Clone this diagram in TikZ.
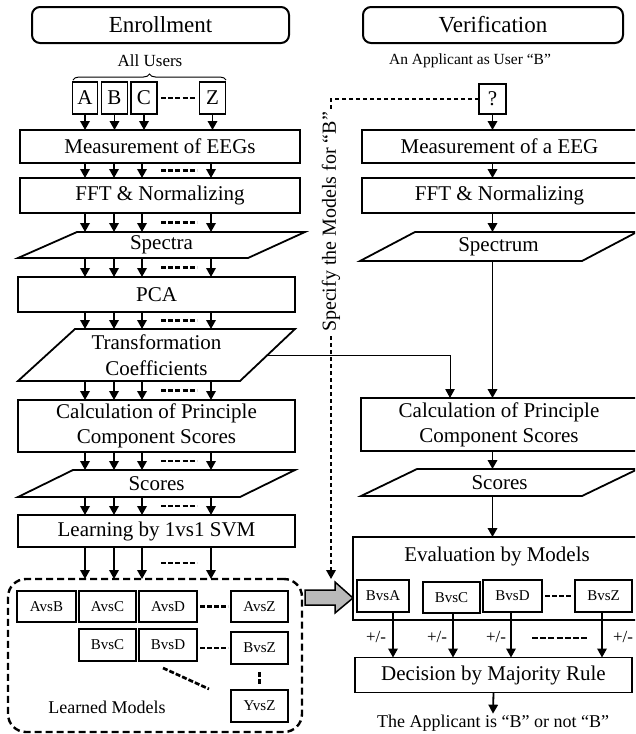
\documentclass[tikz,border=0pt]{standalone}
\usepackage{fontspec}
\setmainfont{Liberation Serif}
\usetikzlibrary{arrows.meta,decorations.pathreplacing,calc}
\newcommand\flowarrows[2]{%
  \foreach \cc in {xa,xb,xc,xz}{\draw[arr] (\cc |- #1.south) -- (\cc |- #2.north);}
  \path (#1.south) -- (#2.north) coordinate[pos=.5] (gm);
  \draw[gapdash] (d1 |- gm) -- (d2 |- gm);
}
\begin{document}
\begin{tikzpicture}[x=1pt,y=-1pt,
  box/.style={draw,line width=1.8pt,inner sep=0pt,outer sep=0pt,align=center,font=\fontsize{21}{25}\selectfont},
  pbox/.style={inner sep=0pt,outer sep=0pt,align=center,font=\fontsize{21}{26}\selectfont},
  para/.style={line width=1.8pt,line join=miter},
  titlebox/.style={draw,line width=2pt,rounded corners=8pt,inner sep=0pt,outer sep=0pt,font=\fontsize{23}{26}\selectfont},
  mbox/.style={draw,line width=1.7pt,inner sep=0pt,outer sep=0pt,font=\fontsize{15}{18}\selectfont,minimum height=31pt},
  arr/.style={line width=1.8pt,-{Triangle[length=9pt,width=9.5pt]}},
  thinarr/.style={line width=1pt,-{Triangle[length=9pt,width=9.5pt]}},
  gapdash/.style={line width=2.8pt,dash pattern=on 5pt off 2.2pt},
  mdash/.style={line width=2.7pt,dash pattern=on 5pt off 2pt},
  lbl/.style={inner sep=1pt,font=\fontsize{17}{20}\selectfont},
  pm/.style={inner sep=1pt,font=\fontsize{17}{20}\selectfont},
]
\useasboundingbox (0,0) rectangle (635,734);
\clip (0,0) rectangle (635,734);

% column coordinates
\coordinate (xa) at (85,0);
\coordinate (xb) at (114,0);
\coordinate (xc) at (142,0);
\coordinate (xz) at (211,0);
\coordinate (d1) at (161,0);
\coordinate (d2) at (197,0);
\coordinate (xr) at (492.5,0);
\coordinate (xt) at (450,0);
\coordinate (xs) at (331,0);

% ===== Enrollment =====
\node[titlebox,minimum width=257pt,minimum height=36pt] (enroll) at (160.5,25) {Enrollment};
\node[lbl] (allusers) at (150,61) {All Users};
\draw[line width=1pt,decorate,decoration={brace,amplitude=6pt}] (73,80) -- (226,80);

\node[box,minimum width=25pt,minimum height=32pt] (la) at (85,98) {A};
\node[box,minimum width=26pt,minimum height=32pt] (lb) at (114.5,98) {B};
\node[box,minimum width=26pt,minimum height=32pt] (lc) at (144,98) {C};
\node[box,minimum width=26pt,minimum height=32pt] (lz) at (212.5,98) {Z};
\draw[gapdash] ($(lc.east)+(4,0)$) -- ($(lz.west)+(-4,0)$);

\node[box,minimum width=280pt,minimum height=33pt] (meas) at (160,146.5) {Measurement of EEGs};
\foreach \n in {la,lb,lc,lz}{\draw[arr] (\n.south) -- (\n.south |- meas.north);}

\node[box,minimum width=280pt,minimum height=35pt] (fft) at (160,195.5) {FFT \& Normalizing};
\flowarrows{meas}{fft}

\node[pbox,minimum width=287pt,minimum height=26pt] (spectra) at (161.5,245) {Spectra};
\draw[para] (spectra.south west) -- ++(230,0) -- (spectra.north east) -- ++(-228,0) -- cycle;
\flowarrows{fft}{spectra}

\node[box,minimum width=277pt,minimum height=35pt] (pca) at (156.5,294.5) {PCA};
\flowarrows{spectra}{pca}

\node[pbox,minimum width=277pt,minimum height=52pt] (trans) at (156.5,355) {Transformation\\Coefficients};
\draw[para] (trans.south west) -- ++(222,0) coordinate (transBR) -- (trans.north east) -- ++(-220,0) -- cycle;
\coordinate (transR) at ($(transBR)!.5!(trans.north east)$);
\flowarrows{pca}{trans}

\node[box,minimum width=277pt,minimum height=52pt] (calcL) at (156.5,426) {Calculation of Principle\\Component Scores};
\flowarrows{trans}{calcL}

\node[pbox,minimum width=277pt,minimum height=27pt] (scoresL) at (156.5,483.5) {Scores};
\draw[para] (scoresL.south west) -- ++(222,0) -- (scoresL.north east) -- ++(-222,0) -- cycle;
\flowarrows{calcL}{scoresL}

\node[box,minimum width=277pt,minimum height=32pt] (learn) at (156.5,531) {Learning by 1vs1 SVM};
\flowarrows{scoresL}{learn}

\node[draw,line width=2.4pt,dash pattern=on 7pt off 4pt,rounded corners=18pt,minimum width=294pt,minimum height=153pt,inner sep=0pt,outer sep=0pt] (models) at (155,655.5) {};
\flowarrows{learn}{models}

\node[mbox,minimum width=59pt] (avb) at (46.5,606.5) {AvsB};
\node[mbox,minimum width=57pt] (avc) at (107.5,606.5) {AvsC};
\node[mbox,minimum width=58pt] (avd) at (168,606.5) {AvsD};
\node[mbox,minimum width=57pt] (avz) at (259.5,606.5) {AvsZ};
\node[mbox,minimum width=57pt,minimum height=32pt] (bvc) at (107.5,645) {BvsC};
\node[mbox,minimum width=58pt,minimum height=32pt] (bvd) at (168,645) {BvsD};
\node[mbox,minimum width=57pt,minimum height=32pt] (bvz) at (259.5,648) {BvsZ};
\node[mbox,minimum width=57pt,minimum height=32pt] (yvz) at (259.5,706) {YvsZ};
\draw[mdash] ($(avd.east)+(3,0)$) -- ($(avz.west)+(-3,0)$);
\draw[mdash] ($(bvd.east |- bvz.west)+(3,0)$) -- ($(bvz.west)+(-3,0)$);
\draw[mdash] ($(bvz.south)+(0,8)$) -- ($(yvz.north)+(0,-5)$);
\draw[mdash] ($(bvd.south)+(-5,7)$) -- ($(yvz.west)+(-22,-17)$);
\node[inner sep=1pt,font=\fontsize{18}{21}\selectfont] (lm) at (107,707) {Learned Models};

% ===== Verification =====
\node[titlebox,minimum width=260pt,minimum height=36pt] (verif) at (493,25) {Verification};
\node[lbl,font=\fontsize{15.5}{18}\selectfont] (appl) at (470,61) {An Applicant as User “B”};
\node[box,minimum width=27pt,minimum height=30pt] (q) at (492.5,99) {?};

\node[box,minimum width=275pt,minimum height=33pt] (measR) at (499.5,146.5) {Measurement of a EEG};
\draw[arr] (q.south) -- (q.south |- measR.north);

\node[box,minimum width=275pt,minimum height=35pt] (fftR) at (499.5,195.5) {FFT \& Normalizing};
\draw[arr] (xr |- measR.south) -- (xr |- fftR.north);

\node[pbox,minimum width=277pt,minimum height=29pt] (spectrum) at (498.5,246.5) {Spectrum};
\draw[para] (spectrum.south west) -- ++(222,0) -- (spectrum.north east) -- ++(-222,0) -- cycle;
\draw[arr] (xr |- fftR.south) -- (xr |- spectrum.north);

\node[box,minimum width=276pt,minimum height=53pt] (calcR) at (499,424.5) {Calculation of Principle\\Component Scores};
\draw[arr] (xr |- spectrum.south) -- (xr |- calcR.north);
\draw[thinarr] (transR) -| (xt |- calcR.north);

\node[pbox,minimum width=277pt,minimum height=27pt] (scoresR) at (499.5,482.5) {Scores};
\draw[para] (scoresR.south west) -- ++(221,0) -- (scoresR.north east) -- ++(-221,0) -- cycle;
\draw[arr] (xr |- calcR.south) -- (xr |- scoresR.north);

\node[draw,line width=1.8pt,inner sep=0pt,outer sep=0pt,minimum width=284pt,minimum height=83pt] (eval) at (495,578.5) {};
\node[inner sep=1pt,font=\fontsize{21}{25}\selectfont] (evaltxt) at (497,556) {Evaluation by Models};
\draw[arr] (xr |- scoresR.south) -- (xr |- eval.north);

\node[mbox,minimum width=52pt,minimum height=32pt] (ba) at (383,596) {BvsA};
\node[mbox,minimum width=57pt] (bc) at (451.5,597.5) {BvsC};
\node[mbox,minimum width=59pt,minimum height=32pt] (bd) at (512.5,596) {BvsD};
\node[mbox,minimum width=57pt,minimum height=32pt] (bz) at (603.5,596) {BvsZ};
\draw[mdash] ($(bd.east)+(3,0)$) -- ($(bz.west)+(-3,0)$);

\node[box,minimum width=277pt,minimum height=35pt] (dec) at (493.5,675) {Decision by Majority Rule};
\coordinate (xba) at (393,0);
\coordinate (xbc) at (453,0);
\coordinate (xbd) at (511,0);
\coordinate (xbz) at (602,0);
\draw[arr] (xba |- ba.south) -- (xba |- dec.north);
\draw[arr] (xbc |- bc.south) -- (xbc |- dec.north);
\draw[arr] (xbd |- bd.south) -- (xbd |- dec.north);
\draw[arr] (xbz |- bz.south) -- (xbz |- dec.north);
\node[pm] (pm1) at (376,637) {+/-};
\node[pm] (pm2) at (437,637) {+/-};
\node[pm] (pm3) at (496,637) {+/-};
\node[pm] (pm4) at (623,637) {+/-};
\draw[line width=2.8pt,dash pattern=on 6pt off 2.2pt] (532,638) -- (587,638);

\node[inner sep=1pt,font=\fontsize{18}{21}\selectfont] (result) at (493,723) {The Applicant is “B” or not “B”};
\draw[arr] (dec.south) -- (result.north);

% dashed specify path
\draw[line width=1.8pt,dash pattern=on 4pt off 3pt,-{Triangle[length=9pt,width=9.5pt]}] (q.west) -| (xs |- models.north);
\node[rotate=90,fill=white,inner sep=3pt,font=\fontsize{20}{24}\selectfont] (spec) at (331,222) {Specify the Models for “B”};

% gray fat arrow
\draw[line width=1.5pt,fill=gray!55,line join=miter] (305,590) -- (335,590) -- (335,582) -- (eval.west |- 0,598) -- (335,613) -- (335,605) -- (305,605) -- cycle;
\end{tikzpicture}
\end{document}
